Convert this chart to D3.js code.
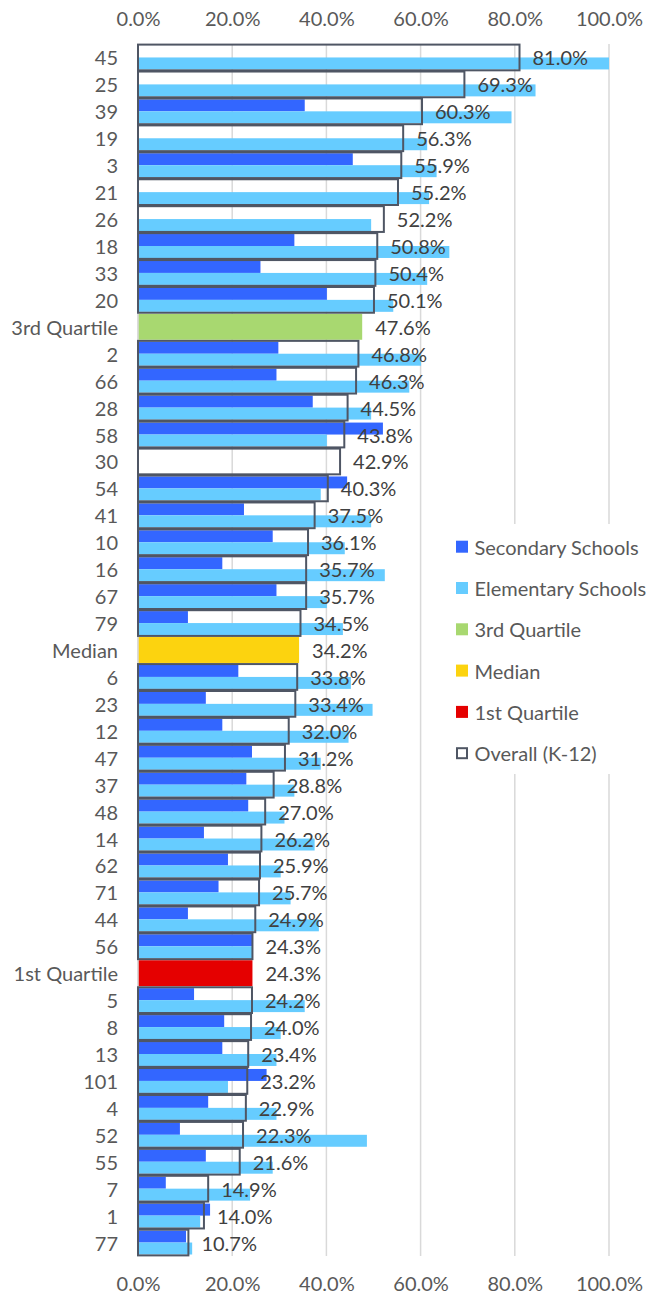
<!DOCTYPE html>
<html>
<head>
<meta charset="utf-8">
<script src="https://cdn.jsdelivr.net/npm/d3@7"></script>
<style>
  html, body { margin: 0; padding: 0; background: #fff; }
  svg { display: block; }
  text { font-family: Lato, "Open Sans", sans-serif; }
</style>
</head>
<body>
<svg id="chart" width="660" height="1296"></svg>
<script>
// Rows, top to bottom (school ids plus the three reference rows)
const categories = ["45","25","39","19","3","21","26","18","33","20","3rd Quartile",
  "2","66","28","58","30","54","41","10","16","67","79","Median",
  "6","23","12","47","37","48","14","62","71","44","56","1st Quartile",
  "5","8","13","101","4","52","55","7","1","77"];

// Secondary schools (%), null where the district has none
const secondary = [null,null,35.4,null,45.6,null,null,33.2,26.0,40.1,null,
  29.8,29.4,37.1,52.0,null,44.4,22.5,28.6,17.9,29.4,10.6,null,
  21.3,14.4,17.9,24.2,23.0,23.4,14.0,19.1,17.1,10.6,24.3,null,
  11.9,18.3,17.9,27.3,14.9,8.9,14.4,5.9,15.3,10.2];

// Elementary schools (%)
const elementary = [100.0,84.4,79.3,61.4,63.4,61.8,49.5,66.1,61.4,54.2,null,
  60.1,57.6,49.5,40.1,null,38.8,49.5,43.9,52.4,40.1,43.5,null,
  45.2,49.8,44.7,38.8,33.2,31.1,37.5,30.3,32.4,38.4,24.3,null,
  35.4,30.3,29.4,19.1,29.4,48.6,28.6,23.8,13.2,11.5];

// Overall K-12 (%)
const overall = [81.0,69.3,60.3,56.3,55.9,55.2,52.2,50.8,50.4,50.1,null,
  46.8,46.3,44.5,43.8,42.9,40.3,37.5,36.1,35.7,35.7,34.5,null,
  33.8,33.4,32.0,31.2,28.8,27.0,26.2,25.9,25.7,24.9,24.3,null,
  24.2,24.0,23.4,23.2,22.9,22.3,21.6,14.9,14.0,10.7];

// Reference rows
const markerNames = ["3rd Quartile","Median","1st Quartile"];
const markerValues = [47.6, 34.2, 24.3];

const tickValues = [0, 20, 40, 60, 80, 100];

const legendNames = ["Secondary Schools","Elementary Schools","3rd Quartile","Median","1st Quartile","Overall (K-12)"];

const COLORS = {
  secondary: "#3366FF",
  elementary: "#66CCFF",
  "3rd Quartile": "#A8D870",
  "Median": "#FCD30F",
  "1st Quartile": "#E50000",
  box: "#4F5664",
  grid: "#D9D9D9",
  axisText: "#595959",
  label: "#404040"
};

const FONT_SIZE = 20;

const svg = d3.select("#chart");
const fmt = v => v.toFixed(1) + "%";

const x = d3.scaleLinear().domain([0, 100]).range([138, 609]);
const y = d3.scaleBand().domain(categories).range([44, 1256]).padding(0);
const bw = y.bandwidth();
const inner = d3.scaleBand().domain(["secondary", "elementary"]).range([1.5, bw - 1.5]).padding(0);

const rows = categories.map((c, i) => ({
  cat: c,
  secondary: secondary[i],
  elementary: elementary[i],
  overall: overall[i],
  marker: markerNames.indexOf(c) >= 0 ? markerValues[markerNames.indexOf(c)] : null
}));

// gridlines
svg.append("g")
  .selectAll("line")
  .data(tickValues)
  .join("line")
  .attr("x1", d => x(d)).attr("x2", d => x(d))
  .attr("y1", 44).attr("y2", 1256)
  .attr("stroke", COLORS.grid)
  .attr("stroke-width", 1.5);

// top and bottom tick labels
const axisTop = d3.axisTop(x).tickValues(tickValues).tickFormat(d => d.toFixed(1) + "%").tickSize(0).tickPadding(0);
const axisBottom = d3.axisBottom(x).tickValues(tickValues).tickFormat(d => d.toFixed(1) + "%").tickSize(0).tickPadding(0);
function styleAxis(g, cy) {
  g.select(".domain").remove();
  g.selectAll("text")
    .attr("y", 0).attr("dy", null)
    .attr("font-size", FONT_SIZE)
    .attr("fill", COLORS.axisText)
    .attr("dominant-baseline", "central");
  g.attr("transform", `translate(0,${cy})`);
}
svg.append("g").call(axisTop).call(g => styleAxis(g, 17.5));
svg.append("g").call(axisBottom).call(g => styleAxis(g, 1283));

// category labels
const axisLeft = d3.axisLeft(y).tickSize(0).tickPadding(0);
svg.append("g")
  .attr("transform", "translate(118,0)")
  .call(axisLeft)
  .call(g => g.select(".domain").remove())
  .call(g => g.selectAll("text")
    .attr("x", 0).attr("dy", null)
    .attr("dominant-baseline", "central")
    .attr("font-size", FONT_SIZE)
    .attr("fill", COLORS.axisText));

// secondary schools bars
svg.append("g")
  .selectAll("rect")
  .data(rows.filter(r => r.secondary != null))
  .join("rect")
  .attr("x", x(0))
  .attr("y", d => y(d.cat) + inner("secondary"))
  .attr("width", d => x(d.secondary) - x(0))
  .attr("height", inner.bandwidth())
  .attr("fill", COLORS.secondary);

// elementary schools bars
svg.append("g")
  .selectAll("rect")
  .data(rows.filter(r => r.elementary != null))
  .join("rect")
  .attr("x", x(0))
  .attr("y", d => y(d.cat) + inner("elementary"))
  .attr("width", d => x(d.elementary) - x(0))
  .attr("height", inner.bandwidth())
  .attr("fill", COLORS.elementary);

// quartile / median bars
svg.append("g")
  .selectAll("rect")
  .data(rows.filter(r => r.marker != null))
  .join("rect")
  .attr("x", x(0))
  .attr("y", d => y(d.cat) + 0.5)
  .attr("width", d => x(d.marker) - x(0))
  .attr("height", bw - 1)
  .attr("fill", d => COLORS[d.cat]);

// category axis line
svg.append("line")
  .attr("x1", x(0)).attr("x2", x(0))
  .attr("y1", 44).attr("y2", 1256)
  .attr("stroke", COLORS.grid)
  .attr("stroke-width", 1.5);

// overall K-12 outlines
svg.append("g")
  .selectAll("rect")
  .data(rows.filter(r => r.overall != null))
  .join("rect")
  .attr("x", x(0))
  .attr("y", d => y(d.cat) + 0.6)
  .attr("width", d => x(d.overall) - x(0))
  .attr("height", bw - 1.2)
  .attr("fill", "none")
  .attr("stroke", COLORS.box)
  .attr("stroke-width", 2);

// value labels
svg.append("g")
  .selectAll("text")
  .data(rows)
  .join("text")
  .attr("x", d => x(d.overall != null ? d.overall : d.marker) + 13)
  .attr("y", d => y(d.cat) + bw / 2)
  .attr("dominant-baseline", "central")
  .attr("font-size", FONT_SIZE)
  .attr("fill", COLORS.label)
  .text(d => fmt(d.overall != null ? d.overall : d.marker));

// legend
const legend = svg.append("g");
legend.append("rect")
  .attr("x", 440).attr("y", 524).attr("width", 218).attr("height", 250)
  .attr("fill", "#fff");
const legendColor = ["secondary", "elementary", "3rd Quartile", "Median", "1st Quartile", null];
const items = legend.selectAll("g.item")
  .data(legendNames)
  .join("g")
  .attr("class", "item")
  .attr("transform", (d, i) => `translate(0,${546.7 + i * 41.3})`);
items.append("rect")
  .attr("x", (d, i) => i === 5 ? 457 : 456)
  .attr("y", (d, i) => i === 5 ? -5 : -6)
  .attr("width", (d, i) => i === 5 ? 10 : 12)
  .attr("height", (d, i) => i === 5 ? 10 : 12)
  .attr("fill", (d, i) => legendColor[i] ? COLORS[legendColor[i]] : "#fff")
  .attr("stroke", (d, i) => i === 5 ? COLORS.box : "none")
  .attr("stroke-width", 2);
items.append("text")
  .attr("x", 474.5)
  .attr("y", 0)
  .attr("dominant-baseline", "central")
  .attr("font-size", FONT_SIZE)
  .attr("fill", COLORS.axisText)
  .text(d => d);
</script>
</body>
</html>
